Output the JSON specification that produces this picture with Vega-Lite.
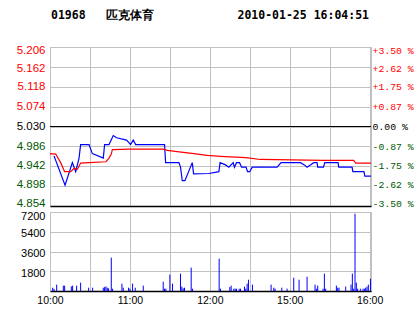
{
  "$schema": "https://vega.github.io/schema/vega-lite/v6.json",
  "background": "white",
  "padding": {"left": 15, "top": 9, "right": 0, "bottom": 0},
  "config": {
    "view": {"stroke": "#c0c0c0", "strokeWidth": 1},
    "axis": {"gridColor": "#c0c0c0", "gridWidth": 1, "ticks": false, "titleFontSize": 0, "title": null, "labelFont": "Liberation Sans"}
  },
  "datasets": {
    "price": [
      {"m": 3, "p": 4.965}, {"m": 11.3, "p": 4.9}, {"m": 16.8, "p": 4.95}, {"m": 19.3, "p": 4.93}, {"m": 21.8, "p": 4.96},
      {"m": 23, "p": 4.99}, {"m": 29.3, "p": 4.99}, {"m": 31.8, "p": 4.97}, {"m": 40, "p": 4.96}, {"m": 41, "p": 4.99},
      {"m": 44.3, "p": 4.99}, {"m": 47.5, "p": 5.01}, {"m": 50, "p": 5.005}, {"m": 57.5, "p": 5.0}, {"m": 60.5, "p": 4.99},
      {"m": 62.5, "p": 5.0}, {"m": 64.3, "p": 4.99}, {"m": 86, "p": 4.99}, {"m": 86.8, "p": 4.95}, {"m": 96.8, "p": 4.95},
      {"m": 98, "p": 4.94}, {"m": 99.3, "p": 4.91}, {"m": 101.3, "p": 4.91}, {"m": 106.8, "p": 4.95}, {"m": 107.8, "p": 4.925},
      {"m": 119.3, "p": 4.926}, {"m": 126.8, "p": 4.93}, {"m": 127.7, "p": 4.95}, {"m": 131.8, "p": 4.945}, {"m": 134.3, "p": 4.94},
      {"m": 137.5, "p": 4.95}, {"m": 138.5, "p": 4.94}, {"m": 140, "p": 4.95}, {"m": 142.3, "p": 4.95}, {"m": 143.8, "p": 4.94},
      {"m": 147.2, "p": 4.94}, {"m": 148.3, "p": 4.93}, {"m": 150, "p": 4.93}, {"m": 151.8, "p": 4.94}, {"m": 170.5, "p": 4.94},
      {"m": 173.5, "p": 4.95}, {"m": 188, "p": 4.95}, {"m": 191, "p": 4.945}, {"m": 193, "p": 4.94}, {"m": 195.5, "p": 4.945},
      {"m": 198, "p": 4.95}, {"m": 200.5, "p": 4.95}, {"m": 201, "p": 4.94}, {"m": 205.3, "p": 4.94}, {"m": 206.3, "p": 4.95},
      {"m": 216.3, "p": 4.95}, {"m": 216.8, "p": 4.94}, {"m": 226.8, "p": 4.94}, {"m": 227.4, "p": 4.93}, {"m": 235.7, "p": 4.93},
      {"m": 236.4, "p": 4.92}, {"m": 241, "p": 4.92}
    ],
    "avg": [
      {"m": 0, "p": 4.97}, {"m": 4.3, "p": 4.969}, {"m": 8, "p": 4.95}, {"m": 11, "p": 4.93}, {"m": 15.5, "p": 4.93},
      {"m": 18, "p": 4.937}, {"m": 20.5, "p": 4.935}, {"m": 23, "p": 4.949}, {"m": 29.3, "p": 4.95}, {"m": 42, "p": 4.952},
      {"m": 44.3, "p": 4.96}, {"m": 46, "p": 4.969}, {"m": 46.8, "p": 4.979}, {"m": 59, "p": 4.98}, {"m": 85, "p": 4.98},
      {"m": 88, "p": 4.977}, {"m": 97, "p": 4.974}, {"m": 108, "p": 4.97}, {"m": 118, "p": 4.966}, {"m": 128, "p": 4.964},
      {"m": 147, "p": 4.961}, {"m": 158, "p": 4.957}, {"m": 205, "p": 4.955}, {"m": 228, "p": 4.955}, {"m": 229.5, "p": 4.949},
      {"m": 241, "p": 4.949}
    ],
    "vol": [
      {"m": 2, "v": 300}, {"m": 3, "v": 200}, {"m": 5, "v": 580}, {"m": 10, "v": 490}, {"m": 11, "v": 490},
      {"m": 16, "v": 420}, {"m": 17, "v": 490}, {"m": 20, "v": 490}, {"m": 23, "v": 760}, {"m": 29, "v": 300},
      {"m": 32, "v": 300}, {"m": 40, "v": 300}, {"m": 41, "v": 360}, {"m": 42, "v": 420}, {"m": 43, "v": 300},
      {"m": 44, "v": 240}, {"m": 46, "v": 3040}, {"m": 47, "v": 210}, {"m": 54, "v": 670}, {"m": 55, "v": 300},
      {"m": 59, "v": 300}, {"m": 60, "v": 210}, {"m": 62, "v": 670}, {"m": 64, "v": 300}, {"m": 70, "v": 490},
      {"m": 85, "v": 850}, {"m": 86, "v": 210}, {"m": 87, "v": 210}, {"m": 90, "v": 1490}, {"m": 92, "v": 670},
      {"m": 98, "v": 1580}, {"m": 99, "v": 400}, {"m": 100, "v": 240}, {"m": 101, "v": 300}, {"m": 106, "v": 2130},
      {"m": 107, "v": 210}, {"m": 127, "v": 2950}, {"m": 128, "v": 210}, {"m": 135, "v": 360}, {"m": 136, "v": 490},
      {"m": 138, "v": 210}, {"m": 139, "v": 210}, {"m": 140, "v": 210}, {"m": 142, "v": 210}, {"m": 143, "v": 210},
      {"m": 146, "v": 400}, {"m": 147, "v": 210}, {"m": 148, "v": 670}, {"m": 149, "v": 1030}, {"m": 152, "v": 580},
      {"m": 166, "v": 580}, {"m": 168, "v": 300}, {"m": 169, "v": 210}, {"m": 174, "v": 300}, {"m": 178, "v": 210},
      {"m": 183, "v": 1210}, {"m": 187, "v": 1030}, {"m": 193, "v": 1310}, {"m": 199, "v": 580}, {"m": 200, "v": 210},
      {"m": 201, "v": 490}, {"m": 205, "v": 210}, {"m": 206, "v": 1580}, {"m": 207, "v": 210}, {"m": 215, "v": 490},
      {"m": 216, "v": 300}, {"m": 217, "v": 300}, {"m": 222, "v": 400}, {"m": 226, "v": 580}, {"m": 227, "v": 1580},
      {"m": 228, "v": 210}, {"m": 229, "v": 7040}, {"m": 230, "v": 760}, {"m": 231, "v": 210}, {"m": 233, "v": 210},
      {"m": 235, "v": 210}, {"m": 236, "v": 210}, {"m": 237, "v": 300}, {"m": 238, "v": 400}, {"m": 239, "v": 580},
      {"m": 240.6, "v": 1120}
    ]
  },
  "bounds": "flush",
  "spacing": 6,
  "vconcat": [
    {
      "width": 321,
      "height": 159,
      "title": {
        "text": "01968\u00a0\u00a0\u00a0匹克体育\u00a0\u00a0\u00a0\u00a0\u00a0\u00a0\u00a0\u00a0\u00a0\u00a0\u00a0\u00a02010-01-25\u00a016:04:51",
        "anchor": "start",
        "frame": "group",
        "font": "DejaVu Sans Mono",
        "fontSize": 11.5,
        "fontWeight": "bold",
        "color": "#000000",
        "offset": 23,
        "dx": 1
      },
      "resolve": {"axis": {"y": "independent"}},
      "layer": [
        {
          "data": {"name": "price"},
          "mark": {"type": "line", "color": "#0000ff", "strokeWidth": 1.2},
          "encoding": {
            "x": {
              "field": "m", "type": "quantitative",
              "scale": {"domain": [0, 241], "nice": false, "zero": false},
              "axis": {"values": [0, 30, 60, 90, 120, 150, 180, 210, 240], "labels": false, "grid": true, "domain": true, "domainColor": "#000000", "domainWidth": 1.3}
            },
            "y": {
              "field": "p", "type": "quantitative",
              "scale": {"domain": [4.854, 5.206], "nice": false, "zero": false},
              "axis": {
                "orient": "left",
                "values": [4.854, 4.898, 4.942, 4.986, 5.03, 5.074, 5.118, 5.162, 5.206],
                "format": ".3f",
                "grid": true,
                "domain": false,
                "labelFontSize": 11.5,
                "labelPadding": 5,
                "labelOffset": {"condition": [{"test": "datum.value > 5.2", "value": 3}, {"test": "datum.value > 5.15", "value": 1.5}, {"test": "datum.value < 4.86", "value": -3}, {"test": "datum.value < 4.9", "value": -2}, {"test": "datum.value < 4.95", "value": -1}], "value": 0},
                "labelColor": {"condition": [{"test": "datum.value > 5.031", "value": "#ff0000"}, {"test": "datum.value < 5.029", "value": "#005a00"}], "value": "#000000"}
              }
            }
          }
        },
        {
          "data": {"name": "avg"},
          "mark": {"type": "line", "color": "#ff0000", "strokeWidth": 1.2},
          "encoding": {
            "x": {"field": "m", "type": "quantitative"},
            "y": {
              "field": "p", "type": "quantitative",
              "axis": {
                "orient": "right",
                "values": [4.854, 4.898, 4.942, 4.986, 5.03, 5.074, 5.118, 5.162, 5.206],
                "grid": false,
                "domain": false,
                "labelFont": "Liberation Mono",
                "labelFontSize": 9.8,
                "labelPadding": 1,
                "labelOffset": {"condition": [{"test": "datum.value > 5.2", "value": 3}, {"test": "datum.value > 5.15", "value": 1.5}, {"test": "datum.value < 4.86", "value": -3}, {"test": "datum.value < 4.9", "value": -2}, {"test": "datum.value < 4.95", "value": -1}], "value": 0},
                "labelExpr": "datum.value > 5.031 ? '+' + format((datum.value / 5.03 - 1) * 100, '.2f') + '\u00a0%' : (datum.value < 5.029 ? '-' + format(abs(datum.value / 5.03 - 1) * 100, '.2f') + '\u00a0%' : '\u00a00.00\u00a0%')",
                "labelColor": {"condition": [{"test": "datum.value > 5.031", "value": "#ff0000"}, {"test": "datum.value < 5.029", "value": "#005a00"}], "value": "#000000"}
              }
            }
          }
        },
        {
          "data": {"values": [{"p": 5.03}]},
          "mark": {"type": "rule", "color": "#000000", "strokeWidth": 1.2},
          "encoding": {"y": {"field": "p", "type": "quantitative", "axis": null}}
        }
      ]
    },
    {
      "width": 321,
      "height": 79,
      "data": {"name": "vol"},
      "mark": {"type": "rule", "color": "#0000ff", "strokeWidth": 1},
      "encoding": {
        "x": {
          "field": "m", "type": "quantitative",
          "scale": {"domain": [0, 241], "nice": false, "zero": false},
          "axis": {
            "values": [0, 30, 60, 90, 120, 150, 180, 210, 240],
            "grid": true,
            "domain": true, "domainColor": "#000000", "domainWidth": 1.3,
            "labelFlush": false,
            "labelFontSize": 10.5,
            "labelColor": "#000000",
            "labelPadding": 4,
            "labelExpr": "datum.value == 0 ? '10:00' : datum.value == 60 ? '11:00' : datum.value == 120 ? '12:00' : datum.value == 180 ? '15:00' : datum.value == 240 ? '16:00' : ''"
          }
        },
        "y": {
          "field": "v", "type": "quantitative",
          "scale": {"domain": [0, 7200], "nice": false},
          "axis": {"values": [1800, 3600, 5400, 7200], "format": "d", "grid": true, "domain": false, "labelFontSize": 11, "labelColor": "#000000", "labelPadding": 5, "labelOffset": {"condition": {"test": "datum.value > 7000", "value": 4}, "value": 2}}
        },
        "y2": {"datum": 0}
      }
    }
  ]
}
